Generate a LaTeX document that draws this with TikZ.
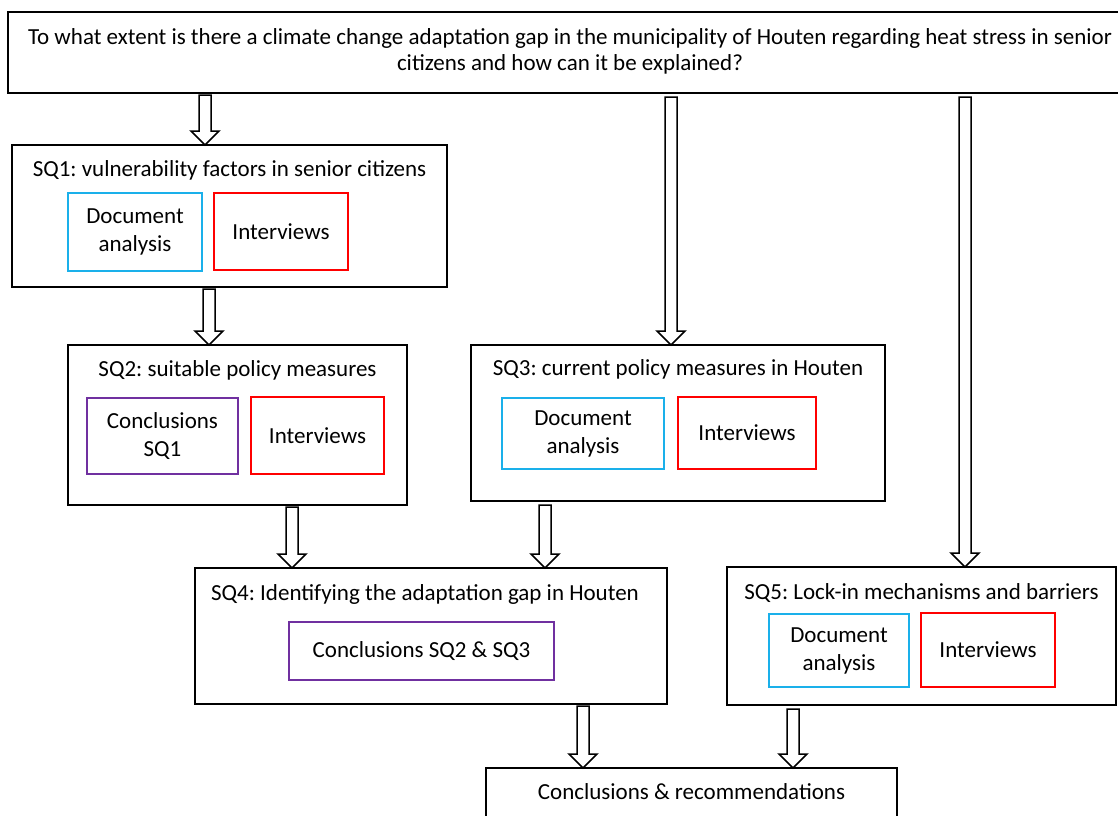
\documentclass[tikz,border=0pt]{standalone}
\usepackage{fontspec}
\setmainfont{Carlito}
\frenchspacing
\usetikzlibrary{calc,backgrounds}
\definecolor{docblue}{HTML}{1AB0EA}
\definecolor{intred}{HTML}{FF0000}
\definecolor{conpurple}{HTML}{7030A0}
\tikzset{
 box/.style={draw=black, line width=2pt, anchor=north west, inner sep=0pt, outer sep=0pt},
 inbox/.style={line width=2pt, anchor=north west, inner sep=0pt, outer sep=0pt, align=center, font=\fontsize{23}{28}\selectfont},
 doc/.style={inbox, draw=docblue},
 intv/.style={inbox, draw=intred},
 concl/.style={inbox, draw=conpurple},
 title/.style={inner sep=0pt, font=\fontsize{23}{27}\selectfont},
 barrow/.style={draw=black, line width=1.5pt, fill=white, line join=miter,
   to path={let \p1=(\tikztostart), \p2=(\tikztotarget) in
     (\x1-6pt,\y1) -- (\x1+6pt,\y1) -- (\x1+6pt,\y2+14pt) -- (\x1+14pt,\y2+14pt)
     -- (\x1,\y2) -- (\x1-14pt,\y2+14pt) -- (\x1-6pt,\y2+14pt) -- cycle}}
}
\begin{document}
\begin{tikzpicture}[x=1pt,y=-1pt]
\useasboundingbox (0,0) rectangle (1118,815);
\clip (0,0) rectangle (1118,815);

% main question
\node[box, minimum width=1124pt, minimum height=81pt] (q) at (8,12) {};
\node[title, align=center, font=\fontsize{23}{26}\selectfont] (qt) at (570,51)
  {To what extent is there a climate change adaptation gap in the municipality of Houten regarding heat stress in senior\\citizens and how can it be explained?};

% SQ1
\node[box, minimum width=435pt, minimum height=142pt] (sq1) at (12,145) {};
\node[title] (sq1t) at (229.5,170) {SQ1: vulnerability factors in senior citizens};
\node[doc, minimum width=134pt, minimum height=78pt] (sq1d) at (68,193) {Document\\analysis};
\node[intv, minimum width=134pt, minimum height=77pt] (sq1i) at (214,193) {Interviews};

% SQ2
\node[box, minimum width=339pt, minimum height=160pt] (sq2) at (68,345) {};
\node[title] (sq2t) at (237.5,370) {SQ2: suitable policy measures};
\node[concl, minimum width=151pt, minimum height=76pt] (sq2c) at (87,398) {Conclusions\\SQ1};
\node[intv, minimum width=133pt, minimum height=77pt] (sq2i) at (251,397) {Interviews};

% SQ3
\node[box, minimum width=414pt, minimum height=156pt] (sq3) at (471,345) {};
\node[title] (sq3t) at (678,369) {SQ3: current policy measures in Houten};
\node[doc, minimum width=162pt, minimum height=71pt] (sq3d) at (502,398) {Document\\analysis};
\node[intv, minimum width=138pt, minimum height=72pt] (sq3i) at (678,397) {Interviews};

% SQ4
\node[box, minimum width=472pt, minimum height=136pt] (sq4) at (195,568) {};
\node[title] (sq4t) at (425,594) {SQ4: Identifying the adaptation gap in Houten};
\node[concl, minimum width=265pt, minimum height=58pt] (sq4c) at (289,622) {Conclusions SQ2 \& SQ3};

% SQ5
\node[box, minimum width=389pt, minimum height=138pt] (sq5) at (727,567) {};
\node[title] (sq5t) at (921.5,593) {SQ5: Lock-in mechanisms and barriers};
\node[doc, minimum width=140pt, minimum height=73pt] (sq5d) at (769,614) {Document\\analysis};
\node[intv, minimum width=134pt, minimum height=74pt] (sq5i) at (921,613) {Interviews};

% conclusions
\node[box, minimum width=411pt, minimum height=70pt] (cr) at (486,768) {};
\node[title] (crt) at (691.5,792) {Conclusions \& recommendations};

% arrow columns
\coordinate (a1) at (205,0);
\coordinate (a2) at (671,0);
\coordinate (a3) at (965,0);
\coordinate (a4) at (209,0);
\coordinate (a5) at (292,0);
\coordinate (a6) at (545,0);
\coordinate (a7) at (583,0);
\coordinate (a8) at (793,0);

\begin{scope}[on background layer]
\draw[barrow] ($(q.south -| a1)+(0,2)$) to (sq1.north -| a1);
\draw[barrow] ($(q.south -| a2)+(0,4)$) to (sq3.north -| a2);
\draw[barrow] ($(q.south -| a3)+(0,4)$) to (sq5.north -| a3);
\draw[barrow] ($(sq1.south -| a4)+(0,2)$) to (sq2.north -| a4);
\draw[barrow] ($(sq2.south -| a5)+(0,2)$) to (sq4.north -| a5);
\draw[barrow] ($(sq3.south -| a6)+(0,4)$) to (sq4.north -| a6);
\draw[barrow] ($(sq4.south -| a7)+(0,2)$) to (cr.north -| a7);
\draw[barrow] ($(sq5.south -| a8)+(0,4)$) to (cr.north -| a8);
\end{scope}
\end{tikzpicture}
\end{document}
